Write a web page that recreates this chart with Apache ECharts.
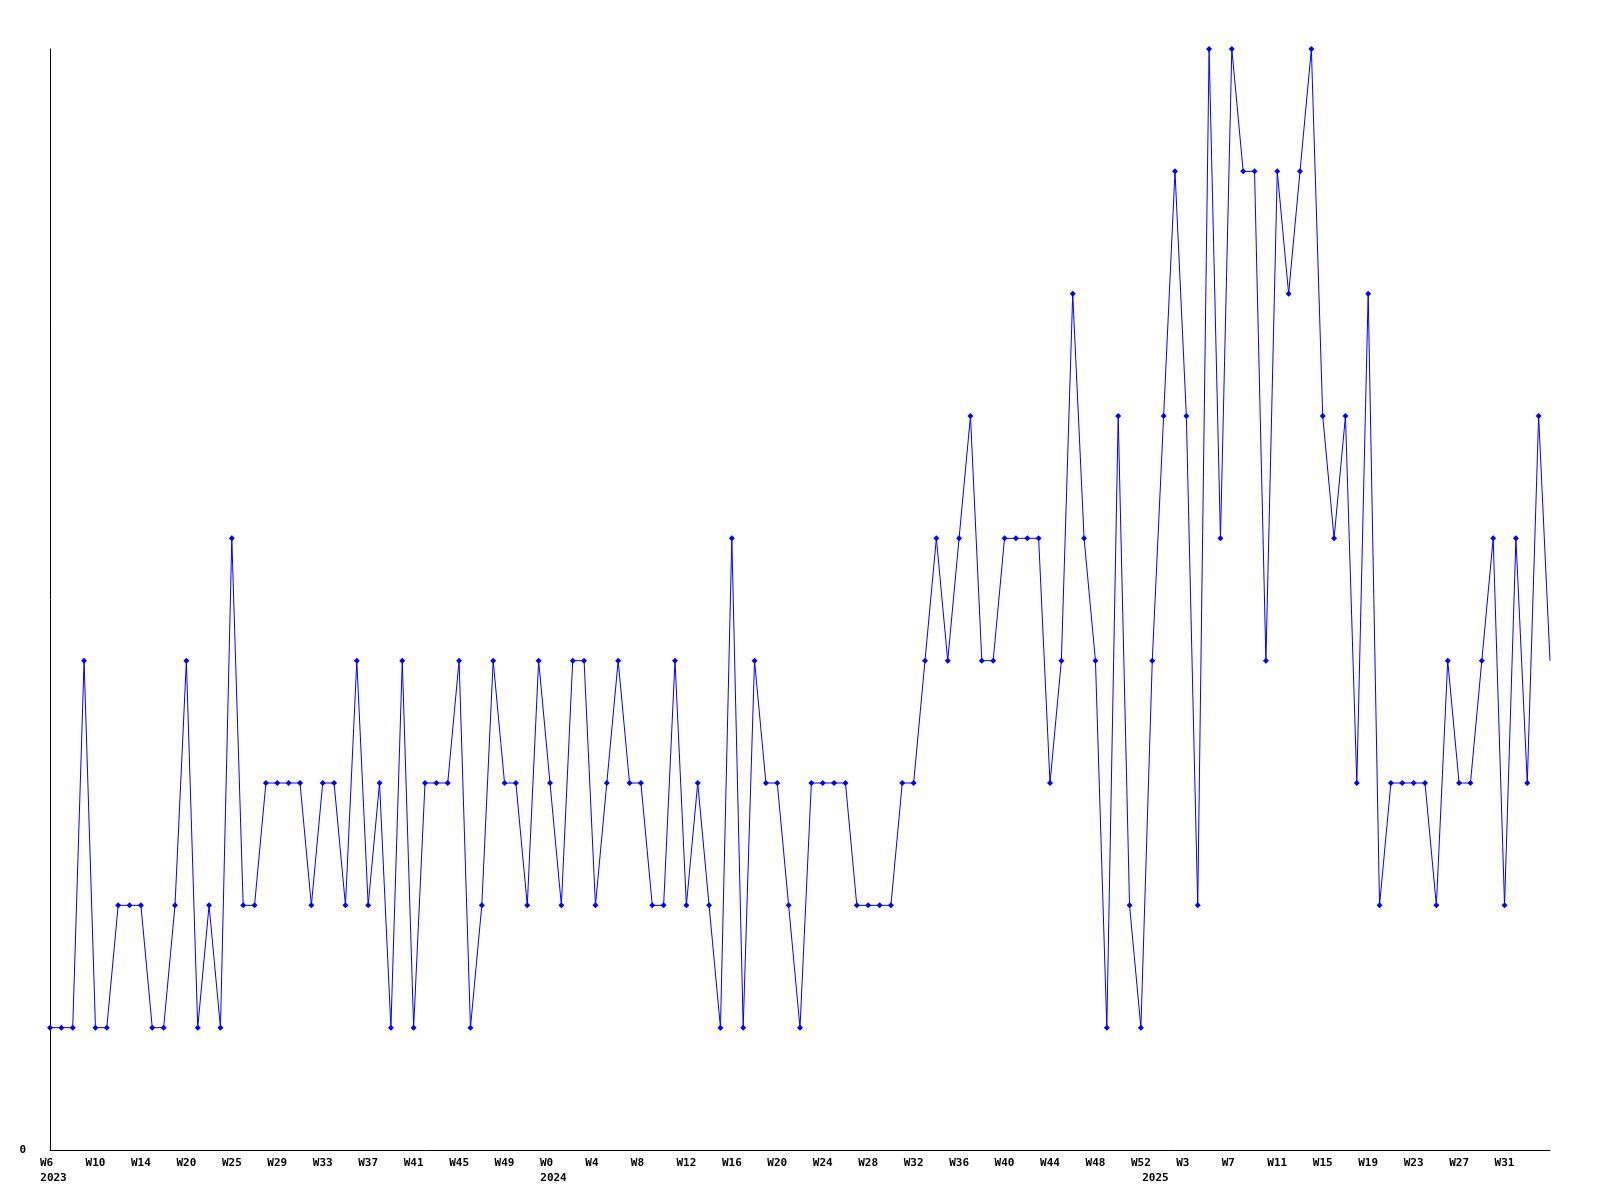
<!DOCTYPE html>
<html>
<head>
<meta charset="utf-8">
<script src="https://cdn.jsdelivr.net/npm/echarts@6/dist/echarts.min.js"></script>
<style>
html,body{margin:0;padding:0;background:#fff;}
#chart{width:1600px;height:1200px;}
</style>
</head>
<body>
<div id="chart"></div>
<script>
// weekly values, one per point
const values = [
  1,1,1,4,1,1,2,2,2,1,1,2,4,1,2,1,5,2,2,3,3,3,3,2,
  3,3,2,4,2,3,1,4,1,3,3,3,4,1,2,4,3,3,2,4,3,2,
  4,4,2,3,4,3,3,2,2,4,2,3,2,1,5,1,4,3,3,2,1,3,
  3,3,3,2,2,2,2,3,3,4,5,4,5,6,4,4,5,5,5,5,3,4,7,5,
  4,1,6,2,1,4,6,8,6,2,9,5,9,8,8,4,8,7,8,9,6,5,6,
  3,7,2,3,3,3,3,2,4,3,3,4,5,2,5,3,6,4
];
// week tick labels, one every 4 points
const tickLabels = ['W6','W10','W14','W20','W25','W29','W33','W37','W41','W45','W49',
  'W0','W4','W8','W12','W16','W20','W24','W28','W32','W36','W40','W44','W48','W52',
  'W3','W7','W11','W15','W19','W23','W27','W31'];
const tickEvery = 4;
// year labels and the point index where each starts
const yearLabels = ['2023','2024','2025'];
const yearIndex = [0,44,96];
const yearStyle = ['a','a','b'];

const categories = values.map((v, i) => 'p' + i);

const FONT = '"DejaVu Sans Mono", "Liberation Mono", monospace';
const txt = {fontFamily: FONT, fontWeight: 'bold', fontSize: 11, color: '#000'};
const chart = echarts.init(document.getElementById('chart'), null, {renderer: 'canvas'});
chart.setOption({
  animation: false,
  backgroundColor: '#ffffff',
  grid: {left: 50, right: 50, top: 49, bottom: 50, containLabel: false},
  xAxis: [{
    type: 'category',
    data: categories,
    boundaryGap: false,
    axisLine: {show: true, lineStyle: {color: '#000', width: 1}},
    axisTick: {show: false},
    splitLine: {show: false},
    axisLabel: Object.assign({
      interval: 0,
      margin: 8,
      formatter: function (v, i) {
        if (i % tickEvery !== 0) return '';
        const t = tickLabels[i / tickEvery] || '';
        return t.length <= 2 ? '{s|' + t + '}' : '{n|' + t + '}';
      },
      rich: {
        s: Object.assign({padding: [0, 7, 0, 0]}, txt),
        n: Object.assign({}, txt)
      }
    }, txt)
  }, {
    type: 'category',
    data: categories,
    position: 'bottom',
    boundaryGap: false,
    axisLine: {show: false},
    axisTick: {show: false},
    splitLine: {show: false},
    axisLabel: Object.assign({
      interval: 0,
      margin: 23,
      align: 'center',
      formatter: function (v, i) {
        const k = yearIndex.indexOf(i);
        return k >= 0 ? '{' + yearStyle[k] + '|' + yearLabels[k] + '}' : '';
      },
      rich: {
        a: Object.assign({padding: [0, 0, 0, 7]}, txt),
        b: Object.assign({padding: [0, 0, 0, 29]}, txt)
      }
    }, txt)
  }],
  yAxis: {
    type: 'value',
    min: 0,
    max: 9,
    interval: 9,
    axisLine: {show: true, lineStyle: {color: '#000', width: 1}},
    axisTick: {show: false},
    splitLine: {show: false},
    axisLabel: Object.assign({
      margin: 24,
      formatter: function (v) { return v === 0 ? '0' : ''; }
    }, txt)
  },
  series: [{
    type: 'line',
    data: values,
    xAxisIndex: 0,
    showSymbol: true,
    showAllSymbol: true,
    symbol: 'diamond',
    symbolSize: function (v, p) { return p.dataIndex === values.length - 1 ? 0 : 6; },
    itemStyle: {color: '#0000ff'},
    lineStyle: {color: '#0000ff', width: 1},
    emphasis: {disabled: true}
  }]
});
</script>
</body>
</html>
